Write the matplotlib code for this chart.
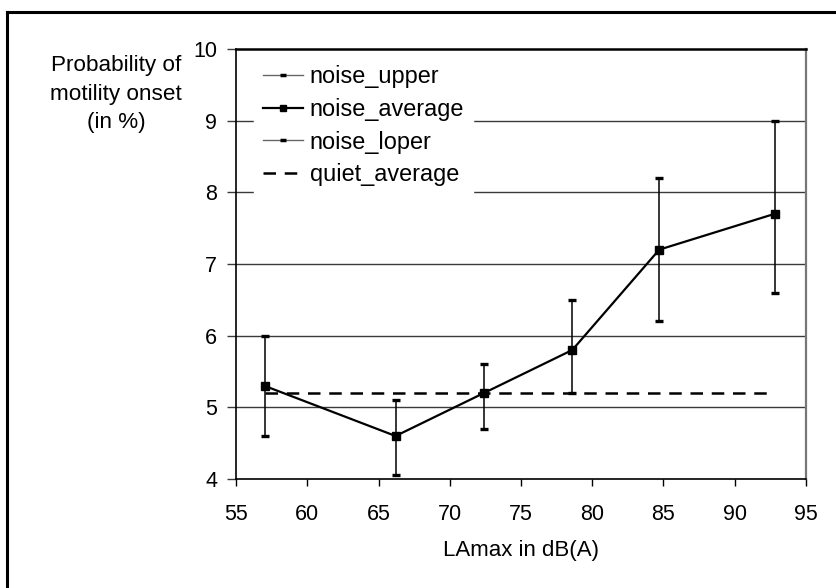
import matplotlib
matplotlib.use("Agg")
import matplotlib.pyplot as plt
from matplotlib.lines import Line2D
import numpy as np

plt.rcParams['font.family'] = ['Liberation Sans', 'DejaVu Sans']

# Data
lamax = [57.0, 66.2, 72.4, 78.6, 84.7, 92.8]
noise_average = [5.3, 4.6, 5.2, 5.8, 7.2, 7.7]
noise_upper = [6.0, 5.1, 5.6, 6.5, 8.2, 9.0]
noise_loper = [4.6, 4.05, 4.7, 5.2, 6.2, 6.6]
quiet_average = 5.2

x_ticks = [55, 60, 65, 70, 75, 80, 85, 90, 95]
y_ticks = [4, 5, 6, 7, 8, 9, 10]

W, H = 837, 588
fig = plt.figure(figsize=(W / 100, H / 100), dpi=100)
ax = fig.add_axes([236 / W, 1 - 479 / H, (806 - 236) / W, (479 - 49) / H])

FS_TICK = 15.5
FS_LABEL = 16.2
FS_LEG = 16.9

# horizontal grid
for y in y_ticks[1:-1]:
    ax.axhline(y, color='#3a3a3a', lw=1.0, zorder=1)

# error bars (noise_upper / noise_loper around the average)
avg = np.array(noise_average)
yerr = [avg - np.array(noise_loper), np.array(noise_upper) - avg]
ax.errorbar(lamax, noise_average, yerr=yerr, fmt='none', ecolor='black',
            elinewidth=1.1, capsize=3.2, capthick=2.4, zorder=3)

# quiet average reference line
ax.plot([lamax[0], lamax[-1]], [quiet_average, quiet_average], color='black',
        lw=1.8, linestyle=(0, (5, 3.5)), zorder=2)

# noise average curve
ax.plot(lamax, noise_average, color='black', lw=1.6, marker='s',
        markersize=5.8, zorder=4)

ax.set_xlim(55, 95)
ax.set_ylim(4, 10)
ax.set_xticks(x_ticks)
ax.set_yticks(y_ticks)
ax.tick_params(axis='y', labelsize=FS_TICK, direction='out', length=6.5,
               width=1.0, color='#3a3a3a', pad=7)
ax.tick_params(axis='x', labelsize=FS_TICK, direction='out', length=5,
               width=1.0, color='black', pad=13)

for side in ['left', 'bottom']:
    ax.spines[side].set_color('black')
    ax.spines[side].set_linewidth(1.2)
ax.spines['top'].set_color('black')
ax.spines['top'].set_linewidth(1.8)
ax.spines['right'].set_color('#777777')
ax.spines['right'].set_linewidth(1.6)

ax.set_xlabel('LAmax in dB(A)', fontsize=16.0, labelpad=11)

fig.text(116 / W, 1 - 55 / H, 'Probability of\nmotility onset\n(in %)',
         fontsize=FS_LABEL, ha='center', va='top', linespacing=1.47)

# legend
handles = [
    Line2D([], [], color='#666666', lw=1.0, marker='_', markersize=5,
           markeredgewidth=2.5, markeredgecolor='black'),
    Line2D([], [], color='black', lw=1.6, marker='s', markersize=4.5),
    Line2D([], [], color='#666666', lw=1.0, marker='_', markersize=5,
           markeredgewidth=2.5, markeredgecolor='black'),
    Line2D([], [], color='black', lw=1.8, linestyle=(0, (5, 3.5))),
]
labels = ['noise_upper', 'noise_average', 'noise_loper', 'quiet_average']
leg = ax.legend(handles, labels, loc='upper left',
                bbox_to_anchor=(254 / W, 1 - 56 / H),
                bbox_transform=fig.transFigure, fontsize=FS_LEG,
                frameon=True, fancybox=False, framealpha=1.0,
                edgecolor='white', facecolor='white', handlelength=1.7,
                handletextpad=0.3, labelspacing=0.42, borderpad=0.38,
                borderaxespad=0.0)
leg.set_zorder(5)

# outer frame
fig.add_artist(Line2D([7 / W, 1.0], [1 - 12 / H, 1 - 12 / H], color='black',
                      lw=2.2, transform=fig.transFigure))
fig.add_artist(Line2D([7 / W, 7 / W], [0.0, 1 - 12 / H], color='black',
                      lw=2.2, transform=fig.transFigure))

fig.savefig('out.png', dpi=100)
